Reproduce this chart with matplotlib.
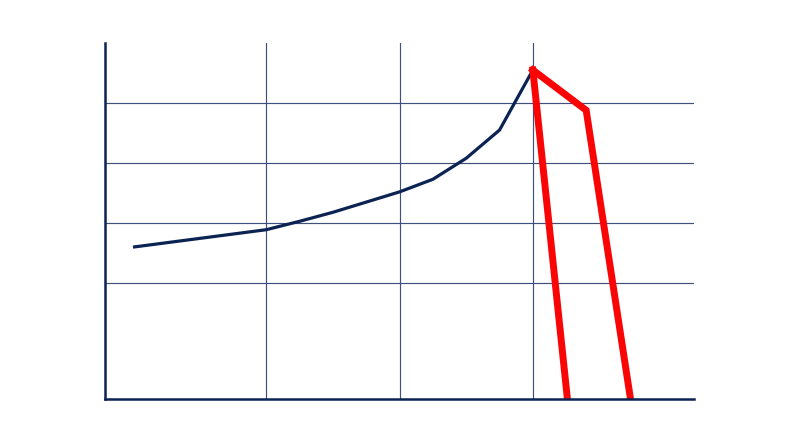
import matplotlib
matplotlib.use("Agg")
import matplotlib.pyplot as plt

# navy curve (quarterly steps)
navy_x = [0, 4, 5, 6, 7, 8, 9, 10, 11, 12]
navy_y = [1.60, 1.89, 2.03, 2.18, 2.35, 2.52, 2.73, 3.08, 3.55, 4.55]

# the two red drops
red1_x = [12, 13.05]
red1_y = [4.55, -1.0]
red2_x = [12, 13.6, 14.95]
red2_y = [4.55, 3.88, -1.0]

grid_x = [4, 8, 12]
grid_y = [1, 2, 3, 4]

fig = plt.figure(figsize=(8, 4.47), dpi=100)
ax = fig.add_axes([0.13125, 0.1074, 0.736, 0.7964])

navy = "#0b2352"
ax.plot(navy_x, navy_y, color=navy, lw=2.3, solid_capstyle="butt", zorder=3)
ax.plot(red1_x, red1_y, color="#fa0505", lw=5.0, solid_joinstyle="miter", zorder=4)
ax.plot(red2_x, red2_y, color="#fa0505", lw=5.0, solid_joinstyle="miter", zorder=4)

ax.set_xlim(-0.84, 16.83)
ax.set_ylim(-0.93, 5.0)
ax.set_xticks(grid_x)
ax.set_yticks(grid_y)
ax.set_xticklabels([])
ax.set_yticklabels([])
ax.tick_params(length=0)
ax.grid(True, color="#3f507a", lw=0.85)
ax.set_axisbelow(True)

for s in ["top", "right"]:
    ax.spines[s].set_visible(False)
for s in ["left", "bottom"]:
    ax.spines[s].set_color(navy)
    ax.spines[s].set_linewidth(1.8)
    ax.spines[s].set_zorder(5)

fig.savefig("out.png", dpi=100)
